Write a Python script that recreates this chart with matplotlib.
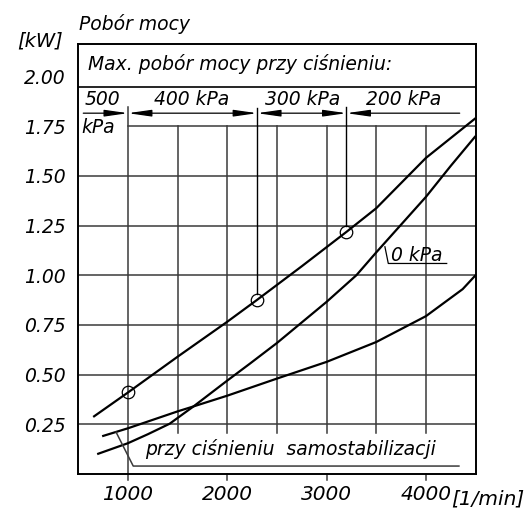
import matplotlib
matplotlib.use('Agg')
import matplotlib.pyplot as plt

# ---- data ----
rpm_max = [650, 1000, 1500, 2000, 2300, 2750, 3200, 3500, 4000, 4500]
kw_max = [0.287, 0.41, 0.59, 0.766, 0.876, 1.045, 1.218, 1.337, 1.59, 1.79]

rpm_0kpa = [690, 1000, 1200, 1420, 1660, 2000, 2230, 2500, 3000, 3300, 3500, 4000, 4250, 4500]
kw_0kpa = [0.10, 0.155, 0.20, 0.253, 0.34, 0.47, 0.556, 0.659, 0.866, 1.0, 1.115, 1.394, 1.55, 1.70]

rpm_stab = [740, 1000, 1500, 1660, 2000, 2500, 3000, 3500, 4000, 4370, 4500]
kw_stab = [0.19, 0.23, 0.315, 0.34, 0.394, 0.48, 0.564, 0.664, 0.794, 0.93, 1.0]

marker_rpm = [1000, 2300, 3200]
marker_kw = [0.41, 0.876, 1.218]

pressure_labels = ['500', '400 kPa', '300 kPa', '200 kPa']
x_ticks = [1000, 2000, 3000, 4000]
x_ticklabels = ['1000', '2000', '3000', '4000']
y_ticks = [0.25, 0.50, 0.75, 1.00, 1.25, 1.50, 1.75, 2.00]
y_ticklabels = ['0.25', '0.50', '0.75', '1.00', '1.25', '1.50', '1.75', '2.00']

FAM = ['DejaVu Sans']

W, H = 528, 519
fig = plt.figure(figsize=(W / 100, H / 100), dpi=100)
ax = fig.add_axes([78.3 / W, 1 - 474 / H, (475.6 - 78.3) / W, (474 - 44) / H])
ax.set_xlim(500, 4500)
ax.set_ylim(0, 2.163)

GRID = '#3a3a3a'
glw = 1.1

# horizontal grid lines
for y in y_ticks[:-2]:
    ax.plot([500, 4500], [y, y], color=GRID, lw=glw, zorder=1)
ax.plot([1000, 4500], [1.75, 1.75], color=GRID, lw=glw, zorder=1)
ax.plot([500, 4500], [1.946, 1.946], color='black', lw=1.2, zorder=1)

# vertical grid lines
for x in [1500, 2000, 2500, 3000, 3500, 4000]:
    ax.plot([x, x], [0.205, 1.75], color=GRID, lw=glw, zorder=1)
ax.plot([1000, 1000], [-0.03, 1.845], color=GRID, lw=glw, zorder=1, clip_on=False)
for x in [2000, 3000, 4000]:
    ax.plot([x, x], [-0.03, 0], color=GRID, lw=glw, zorder=1, clip_on=False)

# pressure boundary lines to markers
ax.plot([2300, 2300], [1.84, 0.876 + 0.03], color='black', lw=1.0, zorder=2)
ax.plot([3200, 3200], [1.845, 1.218 + 0.03], color='black', lw=1.0, zorder=2)

# curves
ax.plot(rpm_max, kw_max, color='black', lw=1.6, zorder=3, solid_capstyle='butt')
ax.plot(rpm_0kpa, kw_0kpa, color='black', lw=1.6, zorder=3, solid_capstyle='butt')
ax.plot(rpm_stab, kw_stab, color='black', lw=1.6, zorder=3, solid_capstyle='butt')
ax.plot(marker_rpm, marker_kw, linestyle='none', marker='o', ms=9, mfc='none',
        mec='black', mew=0.9, zorder=4)

# dimension arrows
ay = 1.815
hs = 'head_length=1.4,head_width=0.2'
ax.annotate('', xy=(1000, ay), xytext=(550, ay),
            arrowprops=dict(arrowstyle='-|>,' + hs, color='black', lw=0.9, shrinkA=0, shrinkB=0))
ax.annotate('', xy=(2300, ay), xytext=(1000, ay),
            arrowprops=dict(arrowstyle='<|-|>,' + hs, color='black', lw=0.9, shrinkA=0, shrinkB=0))
ax.annotate('', xy=(3200, ay), xytext=(2300, ay),
            arrowprops=dict(arrowstyle='<|-|>,' + hs, color='black', lw=0.9, shrinkA=0, shrinkB=0))
ax.annotate('', xy=(3200, ay), xytext=(4340, ay),
            arrowprops=dict(arrowstyle='-|>,' + hs, color='black', lw=0.9, shrinkA=0, shrinkB=0))

tkw = dict(family=FAM, style='italic', fontsize=13.5, color='black')
ax.text(560, 1.885, pressure_labels[0], ha='left', va='center', **tkw)
ax.text(530, 1.745, 'kPa', ha='left', va='center', **tkw)
ax.text(1640, 1.885, pressure_labels[1], ha='center', va='center', **tkw)
ax.text(2755, 1.885, pressure_labels[2], ha='center', va='center', **tkw)
ax.text(3780, 1.885, pressure_labels[3], ha='center', va='center', **tkw)

ax.text(600, 2.06, 'Max. pobór mocy przy ciśnieniu:', ha='left', va='center', **tkw)

# 0 kPa callout
ax.plot([3587, 3621, 4209], [1.143, 1.059, 1.059], color='black', lw=0.9, zorder=3)
ax.text(3650, 1.10, '0 kPa', ha='left', va='center', **tkw)

# self-stabilisation callout
ax.plot([880, 1053, 4332], [0.211, 0.04, 0.04], color=GRID, lw=1.1, zorder=3)
ax.text(1170, 0.125, 'przy ciśnieniu  samostabilizacji', ha='left', va='center', **tkw)

# ticks
ax.set_xticks(x_ticks)
ax.set_xticklabels(x_ticklabels)
ax.set_yticks(y_ticks)
ax.set_yticklabels(y_ticklabels)
ax.tick_params(axis='both', length=0)
ax.tick_params(axis='x', pad=8)
ax.tick_params(axis='y', pad=9)
for lab in ax.get_xticklabels():
    lab.set_fontfamily(FAM)
    lab.set_fontstyle('italic')
    lab.set_fontsize(14.5)
for lab in ax.get_yticklabels():
    lab.set_fontfamily(FAM)
    lab.set_fontstyle('italic')
    lab.set_fontsize(13.5)

for s in ax.spines.values():
    s.set_linewidth(1.4)
    s.set_color('black')

fig.text(451 / W, 1 - 499 / H, '[1/min]', ha='left', va='center',
         family=FAM, style='italic', fontsize=14.5)
fig.text(40 / W, 1 - 41 / H, '[kW]', ha='center', va='center',
         family=FAM, style='italic', fontsize=14)
fig.text(79 / W, 1 - 24 / H, 'Pobór mocy', ha='left', va='center',
         family=FAM, style='italic', fontsize=13.5)

fig.savefig('out.png', dpi=100, facecolor='white')
